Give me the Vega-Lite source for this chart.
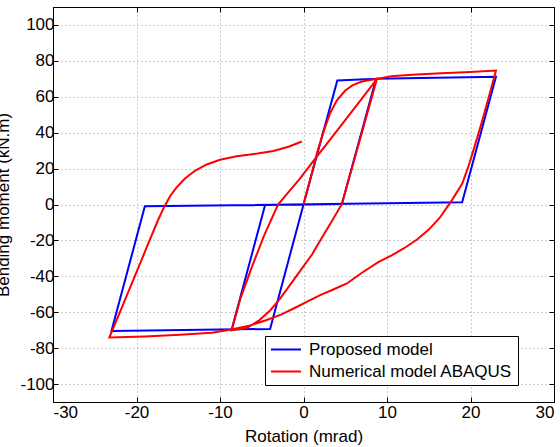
{
  "$schema": "https://vega.github.io/schema/vega-lite/v6.json",
  "width": 501,
  "height": 395,
  "autosize": {"type": "none"},
  "padding": {"left": 53, "top": 7, "right": 6, "bottom": 45},
  "background": "white",
  "config": {
    "font": "Liberation Sans",
    "view": {"stroke": "black", "strokeWidth": 1},
    "axis": {
      "domainColor": "black",
      "tickColor": "black",
      "labelColor": "black",
      "titleColor": "black",
      "labelFontSize": 17,
      "titleFontSize": 17,
      "titleFontWeight": "normal",
      "labelFont": "Liberation Sans",
      "titleFont": "Liberation Sans",
      "gridColor": "#9a9a9a",
      "gridDash": [1, 3],
      "gridWidth": 1,
      "gridOpacity": 1,
      "labelExpr": "toString(datum.value)"
    },
    "legend": {
      "labelFont": "Liberation Sans",
      "labelFontSize": 17,
      "labelColor": "black",
      "labelLimit": 400
    }
  },
  "datasets": {
    "curves": [
      {"s": "Proposed model", "i": 0, "x": 0, "y": 0},
      {"s": "Proposed model", "i": 1, "x": 4.05, "y": 69.1},
      {"s": "Proposed model", "i": 2, "x": 8.7, "y": 70.0},
      {"s": "Proposed model", "i": 3, "x": 4.6, "y": 0.3},
      {"s": "Proposed model", "i": 4, "x": -4.6, "y": -0.3},
      {"s": "Proposed model", "i": 5, "x": -8.6, "y": -69.6},
      {"s": "Proposed model", "i": 6, "x": -4.6, "y": -0.3},
      {"s": "Proposed model", "i": 7, "x": 4.6, "y": 0.3},
      {"s": "Proposed model", "i": 8, "x": 8.7, "y": 70.0},
      {"s": "Proposed model", "i": 9, "x": 23.05, "y": 71.1},
      {"s": "Proposed model", "i": 10, "x": 19.0, "y": 1.2},
      {"s": "Proposed model", "i": 11, "x": -19.0, "y": -1.0},
      {"s": "Proposed model", "i": 12, "x": -23.0, "y": -70.5},
      {"s": "Proposed model", "i": 13, "x": -4.0, "y": -69.3},
      {"s": "Proposed model", "i": 14, "x": 0, "y": 0},

      {"s": "Numerical model ABAQUS", "i": 0, "x": 0, "y": 0},
      {"s": "Numerical model ABAQUS", "i": 1, "x": 0.8, "y": 14},
      {"s": "Numerical model ABAQUS", "i": 2, "x": 1.7, "y": 30},
      {"s": "Numerical model ABAQUS", "i": 3, "x": 2.5, "y": 42},
      {"s": "Numerical model ABAQUS", "i": 4, "x": 3.2, "y": 51},
      {"s": "Numerical model ABAQUS", "i": 5, "x": 4.0, "y": 58},
      {"s": "Numerical model ABAQUS", "i": 6, "x": 5.0, "y": 63.5},
      {"s": "Numerical model ABAQUS", "i": 7, "x": 5.9, "y": 66.5},
      {"s": "Numerical model ABAQUS", "i": 8, "x": 7.0, "y": 68.5},
      {"s": "Numerical model ABAQUS", "i": 9, "x": 8.8, "y": 70.0},
      {"s": "Numerical model ABAQUS", "i": 10, "x": 4.6, "y": 0.3},
      {"s": "Numerical model ABAQUS", "i": 11, "x": 3.3, "y": -10},
      {"s": "Numerical model ABAQUS", "i": 12, "x": 2.2, "y": -18.5},
      {"s": "Numerical model ABAQUS", "i": 13, "x": 1.0, "y": -28},
      {"s": "Numerical model ABAQUS", "i": 14, "x": -0.4, "y": -37},
      {"s": "Numerical model ABAQUS", "i": 15, "x": -1.8, "y": -46},
      {"s": "Numerical model ABAQUS", "i": 16, "x": -2.9, "y": -53},
      {"s": "Numerical model ABAQUS", "i": 17, "x": -4.0, "y": -59},
      {"s": "Numerical model ABAQUS", "i": 18, "x": -5.3, "y": -64.5},
      {"s": "Numerical model ABAQUS", "i": 19, "x": -6.8, "y": -68.8},
      {"s": "Numerical model ABAQUS", "i": 20, "x": -8.6, "y": -70},
      {"s": "Numerical model ABAQUS", "i": 21, "x": -7.6, "y": -53},
      {"s": "Numerical model ABAQUS", "i": 22, "x": -6.2, "y": -35},
      {"s": "Numerical model ABAQUS", "i": 23, "x": -4.7, "y": -17},
      {"s": "Numerical model ABAQUS", "i": 24, "x": -3.05, "y": 0},
      {"s": "Numerical model ABAQUS", "i": 25, "x": -2.0, "y": 5.8},
      {"s": "Numerical model ABAQUS", "i": 26, "x": -0.5, "y": 14},
      {"s": "Numerical model ABAQUS", "i": 27, "x": 1.4, "y": 25.5},
      {"s": "Numerical model ABAQUS", "i": 28, "x": 4.0, "y": 41},
      {"s": "Numerical model ABAQUS", "i": 29, "x": 6.5, "y": 56},
      {"s": "Numerical model ABAQUS", "i": 30, "x": 8.8, "y": 70},
      {"s": "Numerical model ABAQUS", "i": 31, "x": 10.5, "y": 71.4},
      {"s": "Numerical model ABAQUS", "i": 32, "x": 13, "y": 72.3},
      {"s": "Numerical model ABAQUS", "i": 33, "x": 16.5, "y": 73.1},
      {"s": "Numerical model ABAQUS", "i": 34, "x": 20, "y": 73.8},
      {"s": "Numerical model ABAQUS", "i": 35, "x": 23.05, "y": 74.6},
      {"s": "Numerical model ABAQUS", "i": 36, "x": 22.2, "y": 60},
      {"s": "Numerical model ABAQUS", "i": 37, "x": 21.3, "y": 45},
      {"s": "Numerical model ABAQUS", "i": 38, "x": 20.4, "y": 31},
      {"s": "Numerical model ABAQUS", "i": 39, "x": 19.7, "y": 20.5},
      {"s": "Numerical model ABAQUS", "i": 40, "x": 19.0, "y": 11.5},
      {"s": "Numerical model ABAQUS", "i": 41, "x": 17.8, "y": 2.6},
      {"s": "Numerical model ABAQUS", "i": 42, "x": 16.3, "y": -7.5},
      {"s": "Numerical model ABAQUS", "i": 43, "x": 15.0, "y": -14},
      {"s": "Numerical model ABAQUS", "i": 44, "x": 13.6, "y": -19.5},
      {"s": "Numerical model ABAQUS", "i": 45, "x": 12.0, "y": -24.5},
      {"s": "Numerical model ABAQUS", "i": 46, "x": 10.5, "y": -28.5},
      {"s": "Numerical model ABAQUS", "i": 47, "x": 9.0, "y": -32},
      {"s": "Numerical model ABAQUS", "i": 48, "x": 7.0, "y": -38},
      {"s": "Numerical model ABAQUS", "i": 49, "x": 5.2, "y": -44},
      {"s": "Numerical model ABAQUS", "i": 50, "x": 3.5, "y": -47.5},
      {"s": "Numerical model ABAQUS", "i": 51, "x": 2.0, "y": -50.5},
      {"s": "Numerical model ABAQUS", "i": 52, "x": 0.5, "y": -54},
      {"s": "Numerical model ABAQUS", "i": 53, "x": -1.0, "y": -57.5},
      {"s": "Numerical model ABAQUS", "i": 54, "x": -2.7, "y": -61.3},
      {"s": "Numerical model ABAQUS", "i": 55, "x": -4.5, "y": -64.5},
      {"s": "Numerical model ABAQUS", "i": 56, "x": -6.5, "y": -67.5},
      {"s": "Numerical model ABAQUS", "i": 57, "x": -8.8, "y": -69.8},
      {"s": "Numerical model ABAQUS", "i": 58, "x": -11, "y": -71.4},
      {"s": "Numerical model ABAQUS", "i": 59, "x": -14.8, "y": -72.6},
      {"s": "Numerical model ABAQUS", "i": 60, "x": -19, "y": -73.5},
      {"s": "Numerical model ABAQUS", "i": 61, "x": -23.25, "y": -74.1},
      {"s": "Numerical model ABAQUS", "i": 62, "x": -21.5, "y": -54.5},
      {"s": "Numerical model ABAQUS", "i": 63, "x": -19.8, "y": -35.5},
      {"s": "Numerical model ABAQUS", "i": 64, "x": -18.4, "y": -19.5},
      {"s": "Numerical model ABAQUS", "i": 65, "x": -17.4, "y": -8.5},
      {"s": "Numerical model ABAQUS", "i": 66, "x": -16.7, "y": -1.5},
      {"s": "Numerical model ABAQUS", "i": 67, "x": -16.0, "y": 4.5},
      {"s": "Numerical model ABAQUS", "i": 68, "x": -15.2, "y": 9.5},
      {"s": "Numerical model ABAQUS", "i": 69, "x": -14.2, "y": 14.5},
      {"s": "Numerical model ABAQUS", "i": 70, "x": -13.0, "y": 18.8},
      {"s": "Numerical model ABAQUS", "i": 71, "x": -11.6, "y": 22.3},
      {"s": "Numerical model ABAQUS", "i": 72, "x": -10.0, "y": 24.9},
      {"s": "Numerical model ABAQUS", "i": 73, "x": -8.0, "y": 26.9},
      {"s": "Numerical model ABAQUS", "i": 74, "x": -5.5, "y": 28.4},
      {"s": "Numerical model ABAQUS", "i": 75, "x": -3.6, "y": 29.8},
      {"s": "Numerical model ABAQUS", "i": 76, "x": -1.8, "y": 32.2},
      {"s": "Numerical model ABAQUS", "i": 77, "x": -0.2, "y": 35.1}
    ]
  },
  "data": {"name": "curves"},
  "encoding": {
    "order": {"field": "i", "type": "quantitative"},
    "color": {
      "field": "s",
      "type": "nominal",
      "scale": {"domain": ["Proposed model", "Numerical model ABAQUS"], "range": ["#0000ff", "#ff0000"]},
      "legend": {
        "title": null,
        "orient": "none",
        "legendX": 212,
        "legendY": 329,
        "direction": "vertical",
        "symbolType": "M-1,0L3,0",
        "symbolSize": 225,
        "symbolStrokeWidth": 2,
        "labelOffset": 22,
        "strokeColor": "black",
        "fillColor": "white",
        "padding": 5,
        "rowPadding": 4
      }
    }
  },
  "layer": [
    {
      "transform": [{"filter": "datum.s === 'Proposed model'"}],
      "mark": {"type": "line", "strokeWidth": 2, "clip": true},
      "encoding": {
        "x": {
          "field": "x", "type": "quantitative",
          "scale": {"domain": [-30, 30], "nice": false, "zero": false},
          "axis": {
            "orient": "bottom",
            "title": "Rotation (mrad)",
            "values": [-30, -20, -10, 0, 10, 20, 30],
            "grid": true,
            "tickSize": -5,
            "labelPadding": 7,
            "titleY": 39,
            "titleBaseline": "alphabetic"
          }
        },
        "y": {
          "field": "y", "type": "quantitative",
          "scale": {"domain": [-110, 110], "nice": false, "zero": false},
          "axis": {
            "orient": "left",
            "title": "Bending moment (kN.m)",
            "values": [-100, -80, -60, -40, -20, 0, 20, 40, 60, 80, 100],
            "grid": true,
            "tickSize": -5,
            "labelPadding": 4,
            "titleX": -45,
            "titleBaseline": "alphabetic"
          }
        }
      }
    },
    {
      "transform": [{"filter": "datum.s === 'Numerical model ABAQUS'"}],
      "mark": {"type": "line", "strokeWidth": 2, "clip": true},
      "encoding": {
        "x": {
          "field": "x", "type": "quantitative",
          "axis": {
            "orient": "top",
            "title": null,
            "labels": false,
            "values": [-30, -20, -10, 0, 10, 20, 30],
            "grid": false,
            "tickSize": -5
          }
        },
        "y": {
          "field": "y", "type": "quantitative",
          "axis": {
            "orient": "right",
            "title": null,
            "labels": false,
            "values": [-100, -80, -60, -40, -20, 0, 20, 40, 60, 80, 100],
            "grid": false,
            "tickSize": -5
          }
        }
      }
    }
  ],
  "resolve": {"axis": {"x": "independent", "y": "independent"}}
}
